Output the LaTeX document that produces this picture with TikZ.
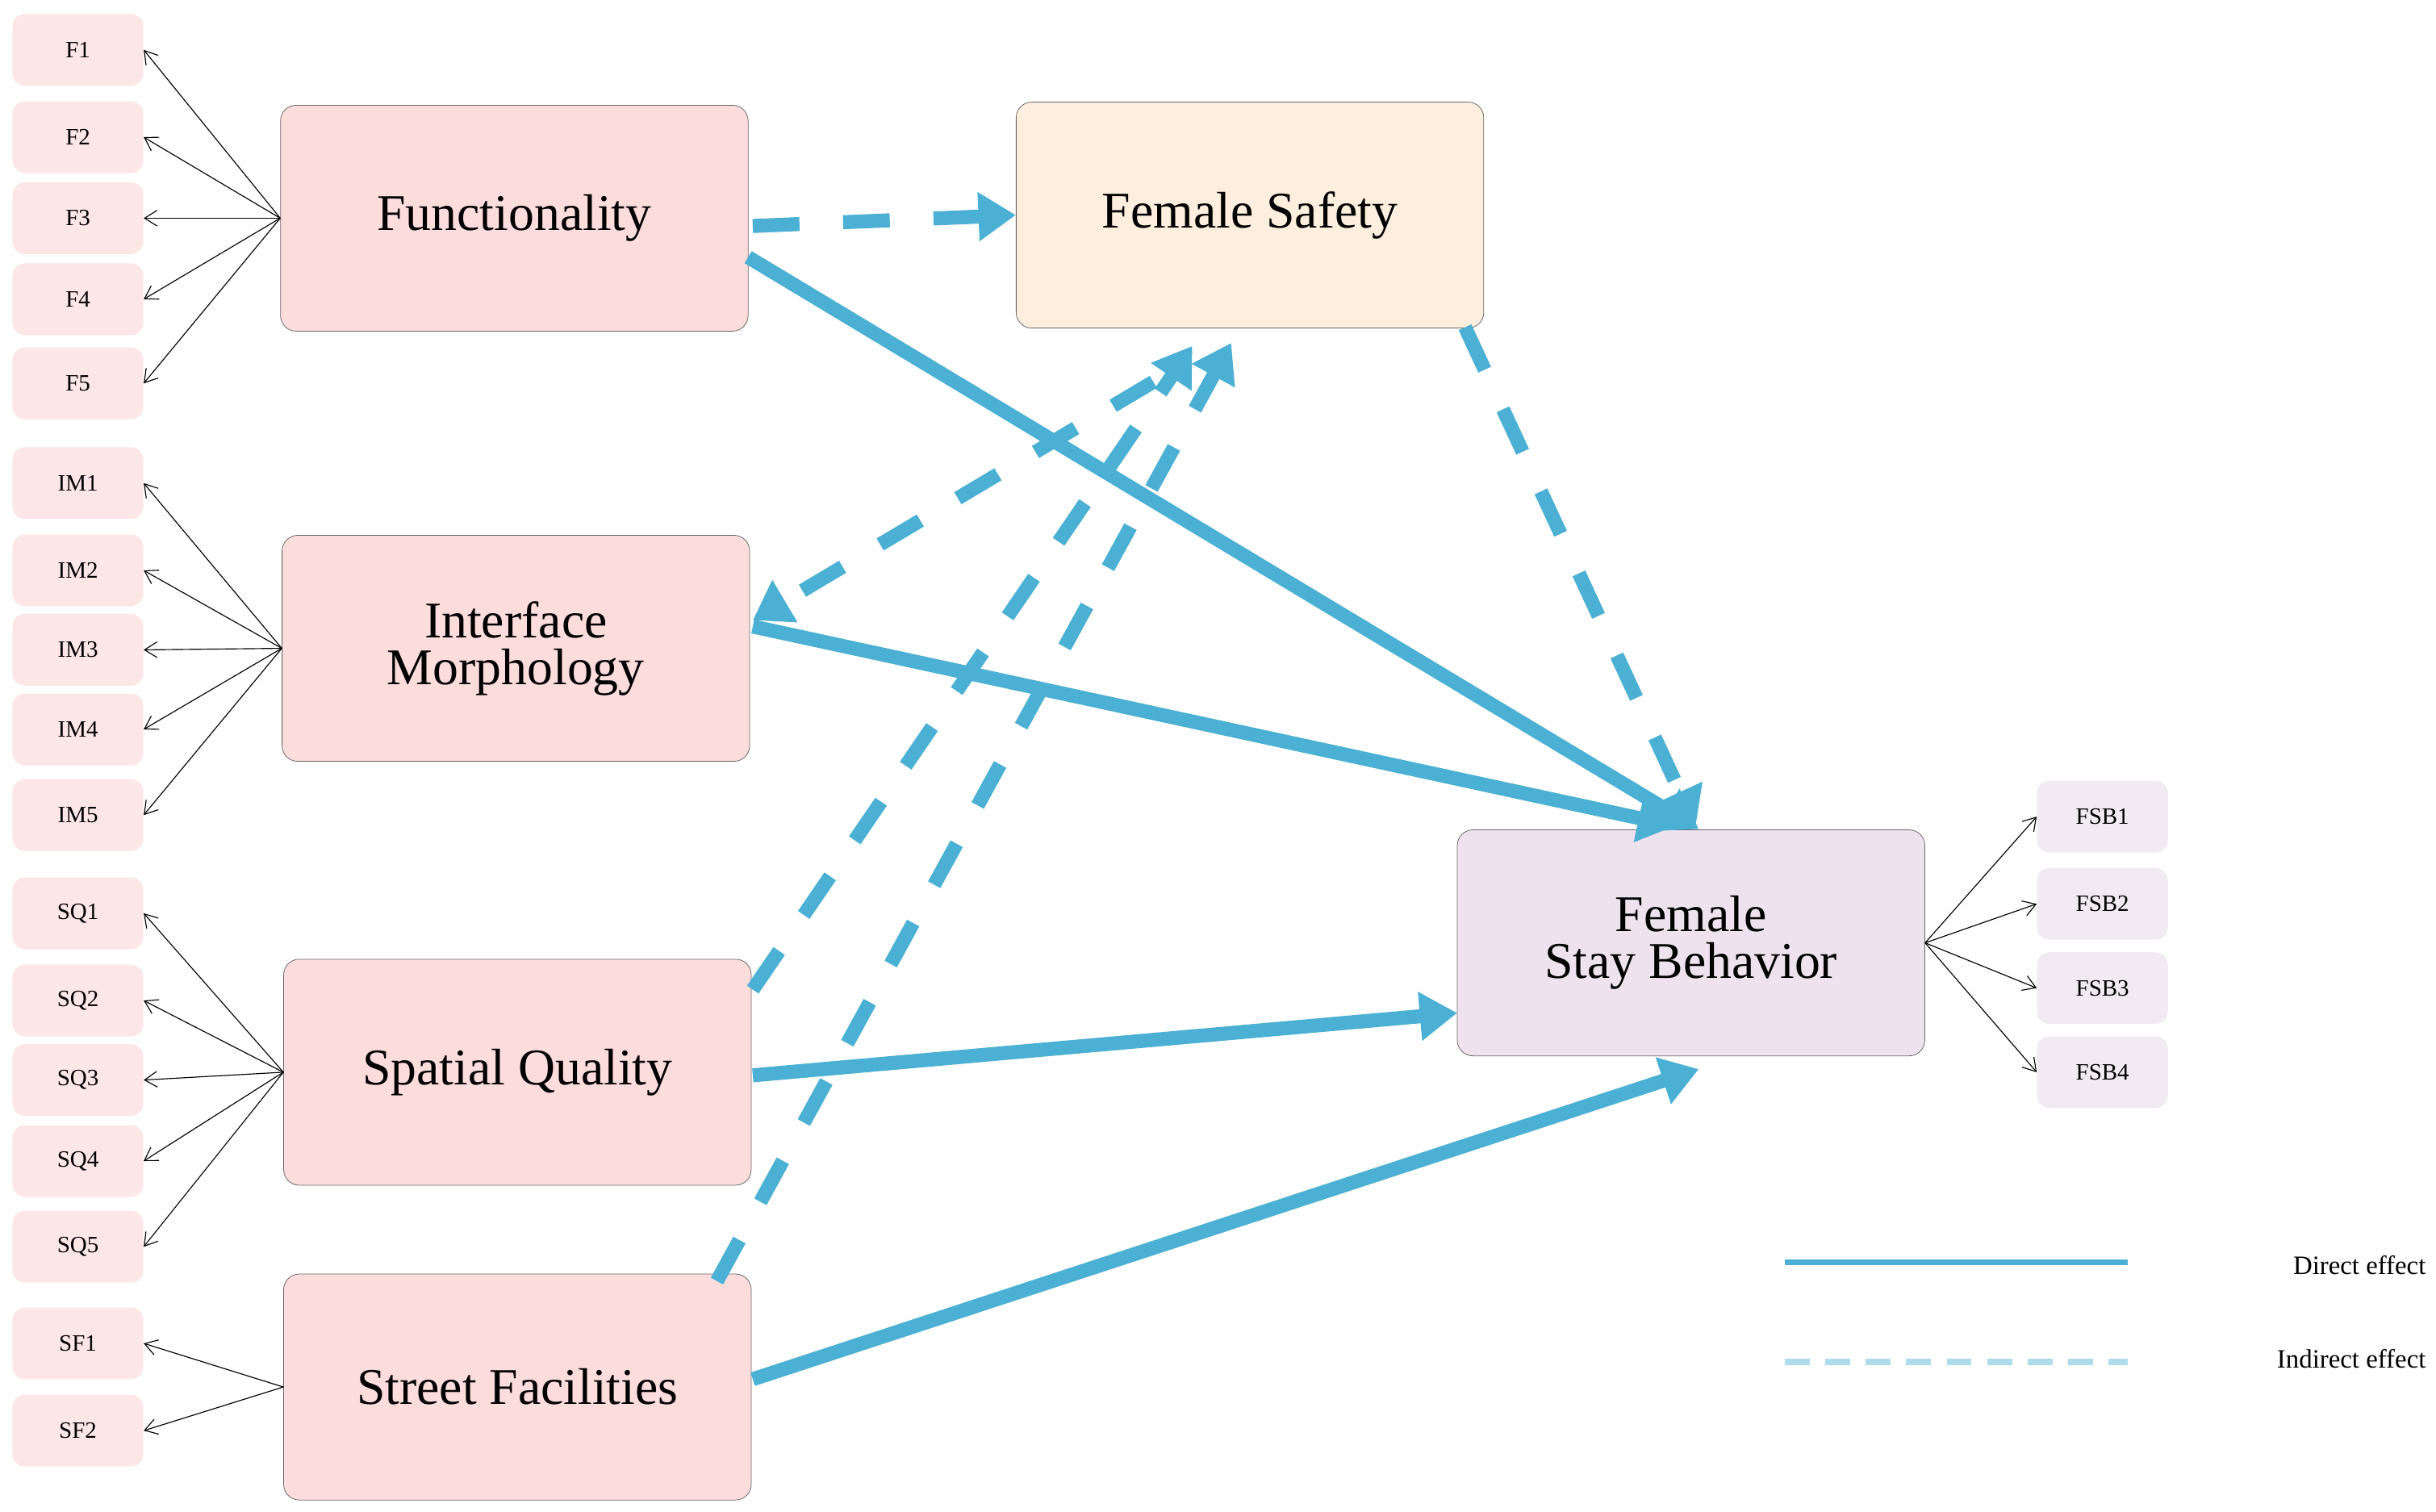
\documentclass[tikz,border=0pt]{standalone}
\usepackage{fontspec}
\setmainfont{Liberation Serif}
\usetikzlibrary{arrows.meta}
\definecolor{ib}{HTML}{FDE6E6}
\definecolor{lb}{HTML}{FDDCDC}
\definecolor{fs}{HTML}{FDEEDD}
\definecolor{fb}{HTML}{EDE2EE}
\definecolor{fbi}{HTML}{F1EAF2}
\definecolor{ar}{HTML}{4BB0D4}
\begin{document}
\begin{tikzpicture}[x=1pt,y=-1pt,
 item/.style={fill=ib,rounded corners=8pt,minimum width=84pt,minimum height=46pt,font=\fontsize{15}{15}\selectfont,inner sep=0},
 fitem/.style={item,fill=fbi},
 lat/.style={draw=black!60,rounded corners=10pt,minimum width=300pt,minimum height=145pt,font=\fontsize{33}{30}\selectfont,align=center,inner sep=0},
 ld/.style={-{Straight Barb[length=8pt,width=10pt]},black,line width=0.6pt},
 dir/.style={ar,line width=9pt,-{Triangle[length=24pt,width=30pt]}},
 ind/.style={dir,dash pattern=on 30pt off 28pt}]
\useasboundingbox (0,0) rectangle (1563,970);
\fill[white] (0,0) rectangle (1563,970);
\foreach \n/\y in {F1/32,F2/88,F3/140,F4/192,F5/246,IM1/310,IM2/366,IM3/417,IM4/468,IM5/523,SQ1/586,SQ2/642,SQ3/693,SQ4/745,SQ5/800,SF1/862,SF2/918}
  \node[item] (\n) at (50,\y) {\n};
\foreach \n/\y in {FSB1/524,FSB2/580,FSB3/634,FSB4/688}
  \node[fitem] (\n) at (1349,\y) {\n};
\node[lat,fill=lb] (Fu) at (330,140) {Functionality};
\node[lat,fill=lb] (IM) at (331,416) {Interface\\Morphology};
\node[lat,fill=lb] (SQ) at (332,688) {Spatial Quality};
\node[lat,fill=lb] (SF) at (332,890) {Street Facilities};
\node[lat,fill=fs] (FS) at (802,138) {Female Safety};
\node[lat,fill=fb] (FB) at (1085,605) {Female\\Stay Behavior};
\foreach \n in {F1,F2,F3,F4,F5} \draw[ld] (Fu.west) -- (\n.east);
\foreach \n in {IM1,IM2,IM3,IM4,IM5} \draw[ld] (IM.west) -- (\n.east);
\foreach \n in {SQ1,SQ2,SQ3,SQ4,SQ5} \draw[ld] (SQ.west) -- (\n.east);
\foreach \n in {SF1,SF2} \draw[ld] (SF.west) -- (\n.east);
\foreach \n in {FSB1,FSB2,FSB3,FSB4} \draw[ld] (FB.east) -- (\n.west);
\coordinate (a1) at (483,145); \coordinate (a2) at (740,245);
\coordinate (a3) at (483,635); \coordinate (a4) at (460,822);
\coordinate (fsa) at (765,222); \coordinate (fsb) at (790,220);
\draw[dir] (480,165) -- (1090,532);
\draw[dir] (483,402) -- (1075,530);
\draw[dir] (483,690) -- (935,650);
\draw[dir] (483,885) -- (1090,686);
\draw[ind] (a1) -- (FS.west);
\draw[ind] (a2) -- (483,398);
\draw[ind] (a3) -- (fsa);
\draw[ind] (a4) -- (fsb);
\draw[ind] (940,210) -- (1088,530);
\coordinate (l1) at (1145,810); \coordinate (l2) at (1365,810);
\coordinate (l3) at (1145,874); \coordinate (l4) at (1365,874);
\draw[ar,line width=4pt] (l1) -- (l2);
\draw[ar!45,line width=4pt,dash pattern=on 16pt off 10pt] (l3) -- (l4);
\node[anchor=east,font=\fontsize{17}{17}\selectfont] (t1) at (1560,812) {Direct effect};
\node[anchor=east,font=\fontsize{17}{17}\selectfont] (t2) at (1560,872) {Indirect effect};
\end{tikzpicture}
\end{document}
